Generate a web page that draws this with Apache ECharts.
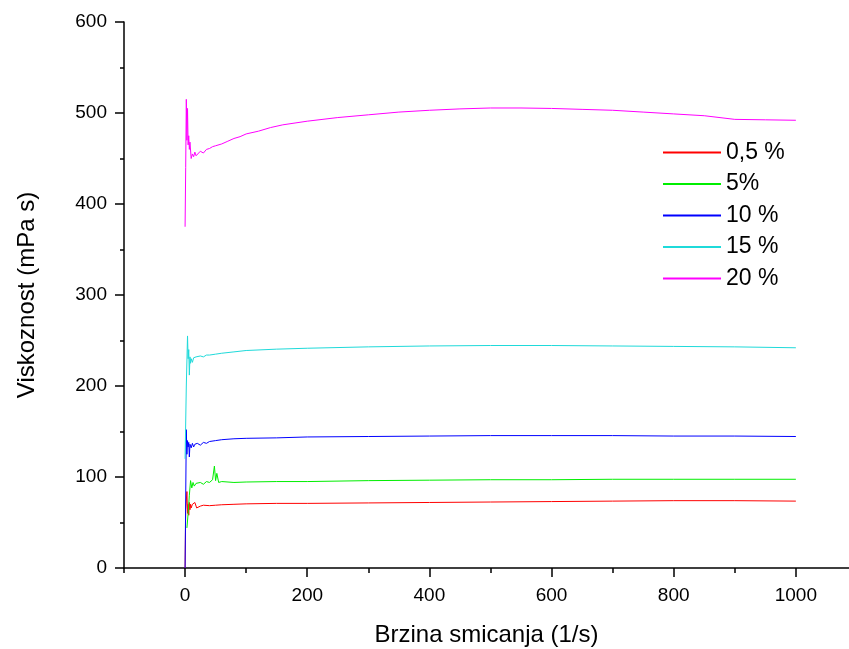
<!DOCTYPE html>
<html>
<head>
<meta charset="utf-8">
<script src="https://cdn.jsdelivr.net/npm/echarts@6/dist/echarts.min.js"></script>
<style>
html,body{margin:0;padding:0;background:#fff;}
#chart{width:849px;height:649px;}
</style>
</head>
<body>
<div id="chart"></div>
<script>
// Shear rate (1/s) and viscosity (mPa s)
var seriesNames = ['0,5 %', '5%', '10 %', '15 %', '20 %'];
var seriesColors = ['#ff0000', '#00ee00', '#0000ff', '#1fdada', '#ff00ff'];

var redX = [0, 1, 3, 4, 5, 6, 7, 8, 9, 10, 12, 14, 16, 18, 19, 20, 25, 30, 40, 50, 60, 80, 100, 150, 200, 300, 400, 500, 600, 700, 800, 900, 1000];
var redY = [0, 64, 84, 60, 70, 58, 72, 64, 70, 66, 70, 68, 72, 74, 66, 68, 68, 69, 68.5, 69, 69.5, 70, 70.5, 71, 71, 71.5, 72, 72.5, 73, 73.5, 74, 74, 73.5];

var greenX = [3, 5, 7, 9, 11, 13, 15, 18, 20, 25, 30, 35, 40, 45, 48, 50, 52, 55, 60, 80, 100, 150, 200, 300, 400, 500, 600, 700, 800, 900, 1000];
var greenY = [44, 60, 80, 96, 88, 94, 90, 93, 91, 94, 92, 95, 94, 97, 112, 96, 104, 94, 95, 94, 94.5, 95, 95, 96, 96.5, 97, 97, 97.5, 97.5, 97.5, 97.5];

var blueX = [0, 2, 3, 4, 5, 6, 7, 8, 10, 12, 14, 16, 18, 20, 25, 30, 35, 40, 50, 60, 80, 100, 150, 200, 300, 400, 500, 600, 700, 800, 900, 1000];
var blueY = [0, 152, 125, 140, 133, 138, 122, 136, 132, 137, 133, 136, 134, 137, 135, 138, 137, 139, 140, 141, 142, 142.5, 143, 144, 144.5, 145, 145.5, 145.5, 145.5, 145, 145, 144.5];

var cyanX = [0, 2, 4, 5, 6, 7, 8, 9, 10, 12, 14, 16, 18, 20, 25, 30, 35, 40, 50, 60, 80, 100, 150, 200, 300, 400, 500, 600, 700, 800, 900, 1000];
var cyanY = [120, 200, 255, 230, 240, 212, 232, 225, 230, 226, 231, 229, 232, 230, 233, 232, 234, 234, 235, 236, 237.5, 239, 240.5, 241.5, 243, 244, 244.5, 244.5, 244, 243.5, 243, 242];

var magentaX = [0, 1, 2, 3, 4, 5, 6, 7, 8, 10, 12, 14, 16, 18, 20, 25, 30, 35, 40, 45, 50, 60, 70, 80, 90, 100, 120, 140, 160, 180, 200, 250, 300, 350, 400, 450, 500, 550, 600, 650, 700, 750, 800, 850, 900, 950, 1000];
var magentaY = [375, 440, 515, 470, 505, 465, 475, 460, 468, 450, 455, 452, 457, 453, 455, 458, 456, 460, 461, 463, 464, 466, 469, 472, 474, 477, 480, 484, 487, 489, 491, 495, 498, 501, 503, 504.5, 505.5, 505.5, 505, 504, 503, 501, 499, 497, 493, 492.5, 492];

var xMajorTicks = [0, 200, 400, 600, 800, 1000];
var xMinorTicks = [-100, 100, 300, 500, 700, 900];

function zip(xs, ys) {
  var out = [];
  for (var i = 0; i < xs.length; i++) out.push([xs[i], ys[i]]);
  return out;
}

var allX = [redX, greenX, blueX, cyanX, magentaX];
var allY = [redY, greenY, blueY, cyanY, magentaY];

var FONT = '"Liberation Sans", Arial, sans-serif';

var series = [];
for (var s = 0; s < seriesNames.length; s++) {
  series.push({
    name: seriesNames[s],
    type: 'line',
    xAxisIndex: 0,
    yAxisIndex: 0,
    data: zip(allX[s], allY[s]),
    showSymbol: false,
    symbol: 'none',
    lineStyle: { width: 1, color: seriesColors[s] },
    itemStyle: { color: seriesColors[s] },
    animation: false,
    z: 2 + s
  });
}

var chart = echarts.init(document.getElementById('chart'), null, { renderer: 'canvas' });
chart.setOption({
  backgroundColor: '#ffffff',
  animation: false,
  textStyle: { fontFamily: FONT },
  grid: { left: 124, right: 0, top: 22, bottom: 81, containLabel: false, outerBoundsMode: 'none' },
  legend: {
    orient: 'vertical',
    left: 658,
    top: 136,
    itemWidth: 58,
    itemHeight: 2,
    itemGap: 8.5,
    icon: 'rect',
    data: seriesNames,
    textStyle: { fontSize: 23, color: '#000', fontFamily: FONT }
  },
  xAxis: [
    {
      type: 'value',
      position: 'bottom',
      min: -100,
      max: 1087,
      name: 'Brzina smicanja (1/s)',
      nameLocation: 'middle',
      nameGap: 55,
      nameTextStyle: { fontSize: 24, color: '#000', fontFamily: FONT },
      axisLine: { show: true, onZero: false, lineStyle: { color: '#000', width: 1.5 } },
      axisTick: { show: true, inside: false, length: 9, customValues: xMajorTicks, lineStyle: { color: '#000', width: 1.5 } },
      axisLabel: { show: true, margin: 18, customValues: xMajorTicks, fontSize: 19, color: '#000', fontFamily: FONT,
        formatter: function (v) { return String(v); } },
      splitLine: { show: false }
    },
    {
      type: 'value',
      position: 'bottom',
      min: -100,
      max: 1087,
      axisLine: { show: false, onZero: false },
      axisTick: { show: true, inside: false, length: 5, customValues: xMinorTicks, lineStyle: { color: '#000', width: 1.5 } },
      axisLabel: { show: false },
      splitLine: { show: false }
    }
  ],
  yAxis: {
    type: 'value',
    min: 0,
    max: 600,
    interval: 100,
    name: 'Viskoznost (mPa s)',
    nameLocation: 'middle',
    nameGap: 85,
    nameTextStyle: { fontSize: 24, color: '#000', fontFamily: FONT },
    axisLine: { show: true, onZero: false, lineStyle: { color: '#000', width: 1.5 } },
    axisTick: { show: true, inside: false, length: 9, lineStyle: { color: '#000', width: 1.5 } },
    minorTick: { show: true, splitNumber: 2, length: 4, lineStyle: { color: '#000', width: 1.5 } },
    axisLabel: { margin: 17, fontSize: 19, color: '#000', fontFamily: FONT },
    splitLine: { show: false },
    minorSplitLine: { show: false }
  },
  series: series
});
</script>
</body>
</html>
